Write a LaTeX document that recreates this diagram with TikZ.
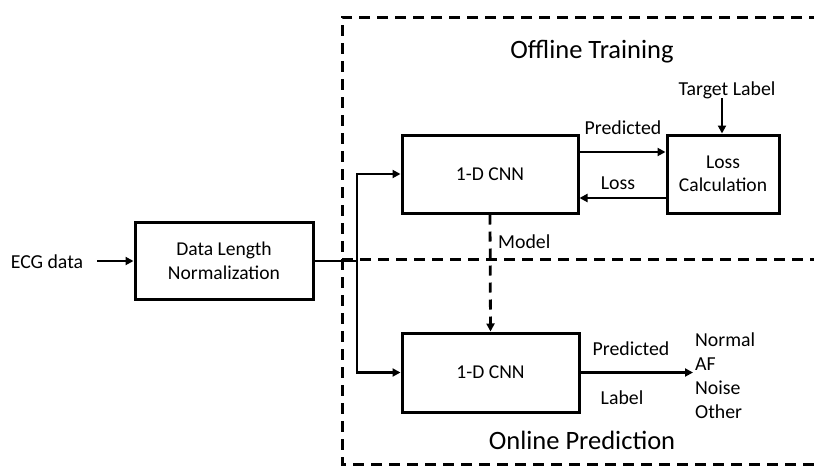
\documentclass[tikz,border=0pt]{standalone}
\usepackage{fontspec}
\setmainfont{Carlito}
\usetikzlibrary{arrows.meta}
\begin{document}
\begin{tikzpicture}[x=1pt,y=-1pt,
  box/.style={draw,line width=3pt,minimum width=#1,inner sep=0pt,align=center,font=\fontsize{19.6}{23.5}\selectfont},
  lbl/.style={inner sep=0pt,font=\fontsize{19.8}{23}\selectfont},
  ttl/.style={inner sep=0pt,font=\fontsize{26.5}{30}\selectfont},
  conn/.style={line width=2.8pt,-{Triangle[length=8pt,width=8pt]}},
  dsh/.style={line width=3pt,dash pattern=on 11pt off 7pt}]
\useasboundingbox (0,0) rectangle (814,466);
% frame
\coordinate (tl) at (342,17);
\coordinate (tr) at (820,17);
\coordinate (bl) at (342,464);
\coordinate (br) at (820,464);
\coordinate (ml) at (342,259);
\coordinate (mr) at (820,259);
\draw[dsh] (tr) -- (tl) -- (bl) -- (br);
\draw[dsh] (ml) -- (mr);
% nodes
\node[lbl] (ecg) at (47,262) {ECG data};
\node[box=178pt,minimum height=77pt] (dln) at (224,261) {Data Length\\Normalization};
\node[box=176pt,minimum height=78pt] (cnn1) at (490,174) {1-D CNN};
\node[box=112pt,minimum height=78pt] (loss) at (723,174) {Loss\\Calculation};
\node[box=177pt,minimum height=79pt] (cnn2) at (490.5,372.5) {1-D CNN};
\node[lbl] (tgt) at (727,90) {Target Label};
\node[ttl] (off) at (592,52) {Offline Training};
\node[ttl] (on) at (582,440) {Online Prediction};
\node[lbl] (pred1) at (623,128) {Predicted};
\node[lbl] (lossl) at (618,183) {Loss};
\node[lbl,anchor=west] (model) at (498,242) {Model};
\node[lbl] (pred2) at (631,349) {Predicted};
\node[lbl] (labl) at (622,398) {Label};
\node[lbl,anchor=west] (o1) at (695,340) {Normal};
\node[lbl,anchor=west] (o2) at (695,364) {AF};
\node[lbl,anchor=west] (o3) at (695,388) {Noise};
\node[lbl,anchor=west] (o4) at (695,412) {Other};
\coordinate (split) at (357,261);
\coordinate (ecgend) at (97,261);
\coordinate (tgttop) at (722,98);
\coordinate (outend) at (693,372.5);
% connectors
\draw[conn] (ecgend) -- (dln.west);
\draw[line width=2.8pt] (dln.east) -- (split);
\draw[conn] (split) |- (cnn1.west);
\draw[conn] (split) |- (cnn2.west);
\draw[conn] ([yshift=22pt]cnn1.east) -- ([yshift=22pt]loss.west);
\draw[conn] ([yshift=-24pt]loss.west) -- ([yshift=-24pt]cnn1.east);
\draw[conn] (tgttop) -- (tgttop |- loss.north);
\draw[line width=2.8pt,dash pattern=on 10pt off 7pt,-{Triangle[length=8pt,width=8pt]}] (cnn1.south) -- (cnn2.north);
\draw[conn] (cnn2.east) -- (outend);
\end{tikzpicture}
\end{document}
